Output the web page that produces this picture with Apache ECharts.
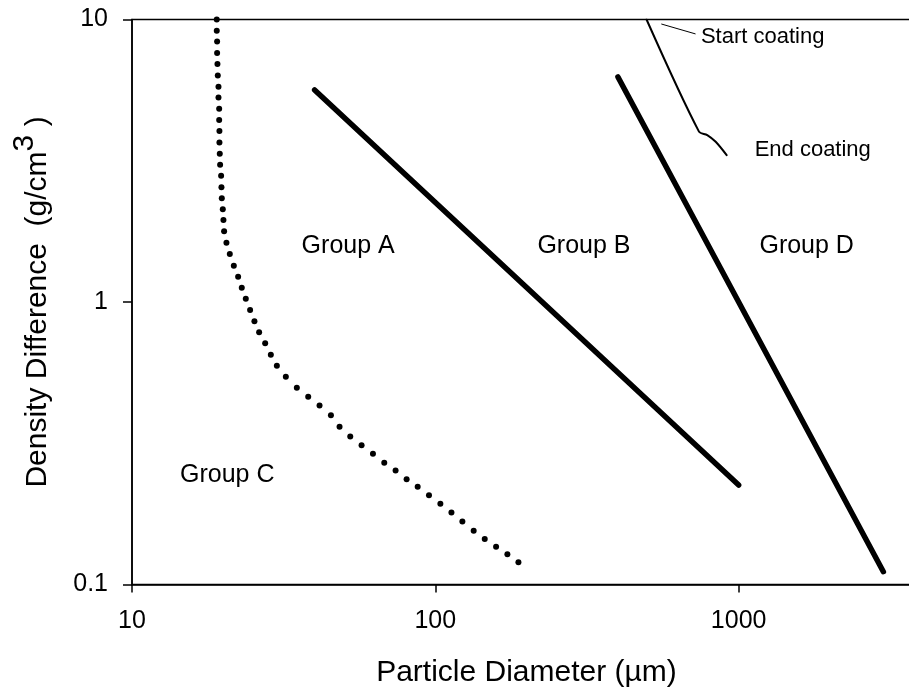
<!DOCTYPE html>
<html><head><meta charset="utf-8">
<script src="https://cdn.jsdelivr.net/npm/echarts@6/dist/echarts.min.js"></script>
<style>html,body{margin:0;padding:0;background:#fff}#c{width:909px;height:691px}</style>
</head><body><div id="c"></div>
<script>
// ---- data ----
const xTicks = [10, 100, 1000];
const yTicks = [0.1, 1, 10];

// Group C / A boundary (dotted), each dot
const cBoundaryX = [19.03,19.03,19.08,19.08,19.13,19.18,19.28,19.28,19.38,19.38,19.42,19.42,19.47,19.52,19.67,19.72,19.77,19.92,20.02,20.12,
  20.48,21.01,21.66,22.38,23.01,23.72,24.51,25.33,26.25,27.48,28.69,30.03,32.15,34.95,38.10,41.52,45.27,48.33,52.42,57.13,
  62.28,67.87,73.96,80.42,87.46,95.30,103.9,113.0,122.8,133.8,145.5,158.6,172.8,187.9];
const cBoundaryY = [10.0,9.13,8.35,7.61,6.96,6.34,5.78,5.29,4.83,4.41,4.03,3.67,3.35,3.06,2.80,2.55,2.33,2.13,1.95,1.78,
  1.62,1.48,1.345,1.229,1.124,1.027,0.937,0.854,0.781,0.714,0.651,0.595,0.544,0.497,0.462,0.430,0.397,0.362,0.334,0.311,
  0.290,0.270,0.253,0.236,0.222,0.207,0.193,0.180,0.167,0.155,0.145,0.136,0.128,0.120];

// Group A / B boundary
const abBoundaryX = [40, 1000];
const abBoundaryY = [5.63, 0.225];

// Group B / D boundary
const bdBoundaryX = [400, 3000];
const bdBoundaryY = [6.26, 0.111];

// coating path
const coatingX = [497, 740, 788, 840, 913];
const coatingY = [10, 4.01, 3.90, 3.69, 3.31];

// pointer from "Start coating"
const pointerX = [556, 721];
const pointerY = [9.64, 8.89];

// region / annotation labels
const labelNames = ['Group A', 'Group B', 'Group C', 'Group D', 'Start coating', 'End coating'];
const labelX = [51.6, 309, 20.6, 1676, 1200, 1755];
const labelY = [1.58, 1.58, 0.243, 1.58, 8.67, 3.45];
const labelBig = [true, true, true, true, false, false];

// ---- chart ----
const FONT = 'Arial, "Liberation Sans", Helvetica, sans-serif';
const zip = (xs, ys) => xs.map((x, i) => [x, ys[i]]);

const chart = echarts.init(document.getElementById('c'), null, {renderer: 'canvas'});
chart.setOption({
  backgroundColor: '#ffffff',
  animation: false,
  grid: {left: 132, top: 19.5, bottom: 106.5, right: -2, show: true, borderColor: '#000', borderWidth: 1.5,
    backgroundColor: 'transparent', containLabel: false, outerBoundsMode: 'none'},
  xAxis: {
    type: 'log', logBase: 10, min: xTicks[0], max: 3700,
    name: 'Particle Diameter (µm)', nameLocation: 'middle', nameGap: 73,
    nameTextStyle: {fontFamily: FONT, fontSize: 30, color: '#000', padding: [0, 0, 0, 10]},
    axisLine: {lineStyle: {color: '#000', width: 1.5}},
    axisTick: {show: true, inside: false, length: 8, lineStyle: {color: '#000', width: 1.5}},
    minorTick: {show: false},
    splitLine: {show: false},
    axisLabel: {fontFamily: FONT, fontSize: 25, color: '#000', margin: 24, showMaxLabel: false,
      formatter: v => String(+(+v).toPrecision(6))}
  },
  yAxis: {
    type: 'log', logBase: 10, min: yTicks[0], max: yTicks[yTicks.length - 1],
    name: '{n|Density Difference  (g/cm}{s|3}{n| )}', nameLocation: 'middle', nameGap: 79, nameRotate: 90,
    nameTextStyle: {fontFamily: FONT, fontSize: 30, color: '#000',
      rich: {
        n: {fontFamily: FONT, fontSize: 30, lineHeight: 30, verticalAlign: 'bottom', color: '#000'},
        s: {fontFamily: FONT, fontSize: 30, lineHeight: 43, verticalAlign: 'top', color: '#000'}
      }},
    axisLine: {lineStyle: {color: '#000', width: 1.5}},
    axisTick: {show: true, inside: false, length: 9, lineStyle: {color: '#000', width: 1.5}},
    minorTick: {show: false},
    splitLine: {show: false},
    axisLabel: {fontFamily: FONT, fontSize: 25, color: '#000', margin: 24,
      formatter: v => String(+(+v).toPrecision(6))}
  },
  series: [
    {
      type: 'scatter', name: 'C boundary', data: zip(cBoundaryX, cBoundaryY),
      symbol: 'circle', symbolSize: 6, itemStyle: {color: '#000', opacity: 1}, silent: true
    },
    {
      type: 'line', name: 'A/B boundary', data: zip(abBoundaryX, abBoundaryY),
      showSymbol: false, symbol: 'none', lineStyle: {color: '#000', width: 5.5, cap: 'round'}, silent: true
    },
    {
      type: 'line', name: 'B/D boundary', data: zip(bdBoundaryX, bdBoundaryY),
      showSymbol: false, symbol: 'none', lineStyle: {color: '#000', width: 5.5, cap: 'round'}, silent: true
    },
    {
      type: 'line', name: 'coating', data: zip(coatingX, coatingY), smooth: 0.3,
      showSymbol: false, symbol: 'none', lineStyle: {color: '#000', width: 2, cap: 'round'}, silent: true
    },
    {
      type: 'line', name: 'pointer', data: zip(pointerX, pointerY),
      showSymbol: false, symbol: 'none', lineStyle: {color: '#000', width: 1}, silent: true
    },
    {
      type: 'scatter', name: 'labels', silent: true,
      symbolSize: 1, itemStyle: {color: 'rgba(0,0,0,0)', opacity: 1},
      data: labelNames.map((n, i) => ({name: n, value: [labelX[i], labelY[i]],
        label: {fontSize: labelBig[i] ? 25 : 22}})),
      label: {show: true, position: 'inside', formatter: p => p.name, fontFamily: FONT, color: '#000', opacity: 1}
    }
  ]
});
</script>
</body></html>
